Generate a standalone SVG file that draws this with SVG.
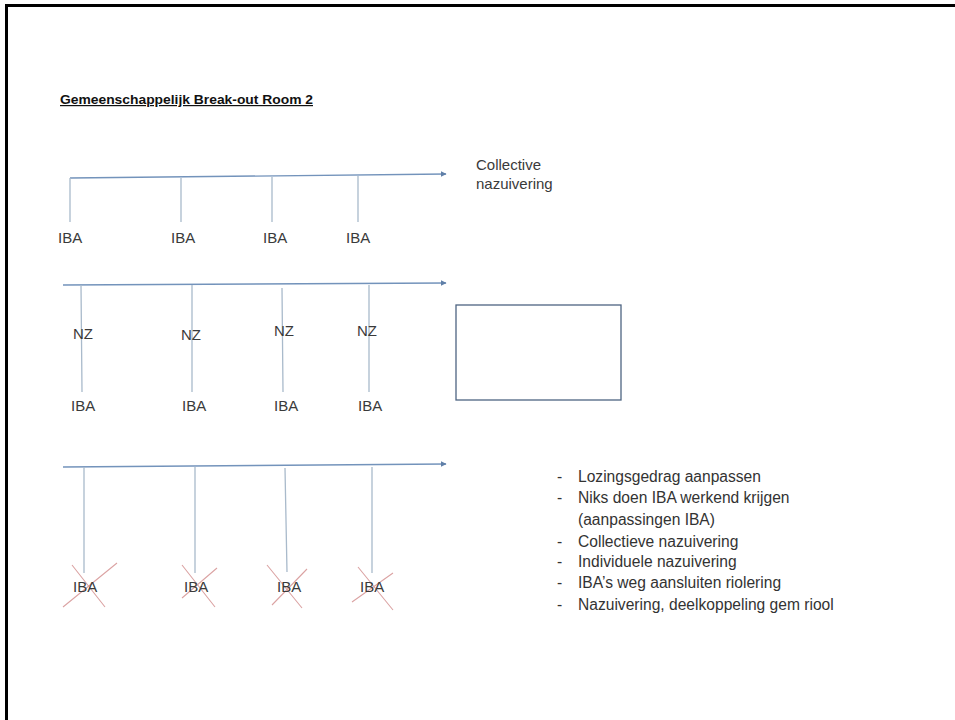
<svg xmlns="http://www.w3.org/2000/svg" width="955" height="720" viewBox="0 0 955 720">
<defs>
<marker id="arr" viewBox="0 0 10 10" refX="9" refY="5" markerWidth="6" markerHeight="6" orient="auto" markerUnits="userSpaceOnUse"><path d="M0,0 L10,5 L0,10 z" fill="#5f7fa8"/></marker>
<style>
.t{font-family:"Liberation Sans",Arial,sans-serif;font-size:15px;fill:#3a3a3a}
.l{font-family:"Liberation Sans",Arial,sans-serif;font-size:15.6px;fill:#333}
.title{font-family:"Liberation Sans",Arial,sans-serif;font-size:12px;font-weight:bold;fill:#111;text-decoration:underline}
.h{stroke:#7393bb;stroke-width:1.3;fill:none}
.v{stroke:#a9bacb;stroke-width:1.3;fill:none}
.x{stroke:#dba3a3;stroke-width:1.1;fill:none}
</style>
</defs>
<rect width="955" height="720" fill="#fff"/>
<path d="M6.5,720 V5.5 H955" fill="none" stroke="#000" stroke-width="3"/>
<g id="title"><text class="title" x="60" y="104" textLength="253" lengthAdjust="spacingAndGlyphs">Gemeenschappelijk Break-out Room 2</text></g>
<g id="connectors">
<path class="h" d="M70,178 L446,174" marker-end="url(#arr)"/>
<path class="v" d="M70,178 V222 M181,178 V222 M272,177 V222 M358,176 V222"/>
<path class="h" d="M63,285 L446,283" marker-end="url(#arr)"/>
<path class="v" d="M81,285 L82,392 M192,285 V392 M282,288 L283,392 M369,285 V392"/>
<path class="h" d="M63,467 L446,464" marker-end="url(#arr)"/>
<path class="v" d="M84,467 V573 M195,467 V573 M285,468 L287,572 M372,467 V573"/>
<path class="x" d="M72,565 L105,607 M117,563 L63,607 M182,565 L215,607 M217,568 L182,598 M267,565 L302,608 M307,569 L272,605 M358,567 L393,610 M393,573 L352,602"/>
</g>
<g id="row1">
<g id="iba1a"><text class="t" x="58" y="243">IBA</text></g>
<g id="iba1b"><text class="t" x="171" y="243">IBA</text></g>
<g id="iba1c"><text class="t" x="263" y="243">IBA</text></g>
<g id="iba1d"><text class="t" x="346" y="243">IBA</text></g>
<g id="collective"><text class="t" x="476" y="170">Collective</text><text class="t" x="476" y="189">nazuivering</text></g>
</g>
<g id="row2">
<g id="nz1"><text class="t" x="73" y="339">NZ</text></g>
<g id="nz2"><text class="t" x="181" y="340">NZ</text></g>
<g id="nz3"><text class="t" x="274" y="336">NZ</text></g>
<g id="nz4"><text class="t" x="357" y="336">NZ</text></g>
<g id="iba2a"><text class="t" x="71" y="411">IBA</text></g>
<g id="iba2b"><text class="t" x="182" y="411">IBA</text></g>
<g id="iba2c"><text class="t" x="274" y="411">IBA</text></g>
<g id="iba2d"><text class="t" x="358" y="411">IBA</text></g>
<g id="box"><rect x="456" y="305" width="165" height="95" fill="#fff" stroke="#4e6482" stroke-width="1.3"/></g>
</g>
<g id="row3">
<g id="iba3a"><text class="t" x="73" y="592">IBA</text></g>
<g id="iba3b"><text class="t" x="184" y="592">IBA</text></g>
<g id="iba3c"><text class="t" x="277" y="592">IBA</text></g>
<g id="iba3d"><text class="t" x="360" y="592">IBA</text></g>
</g>
<g id="list">
<text class="l" x="557" y="482">-</text><text class="l" x="578" y="482">Lozingsgedrag aanpassen</text>
<text class="l" x="557" y="503">-</text><text class="l" x="578" y="503">Niks doen IBA werkend krijgen</text>
<text class="l" x="578" y="525">(aanpassingen IBA)</text>
<text class="l" x="557" y="547">-</text><text class="l" x="578" y="547">Collectieve nazuivering</text>
<text class="l" x="557" y="567">-</text><text class="l" x="578" y="567">Individuele nazuivering</text>
<text class="l" x="557" y="588">-</text><text class="l" x="578" y="588">IBA’s weg aansluiten riolering</text>
<text class="l" x="557" y="610">-</text><text class="l" x="578" y="610">Nazuivering, deelkoppeling gem riool</text>
</g>
</svg>
